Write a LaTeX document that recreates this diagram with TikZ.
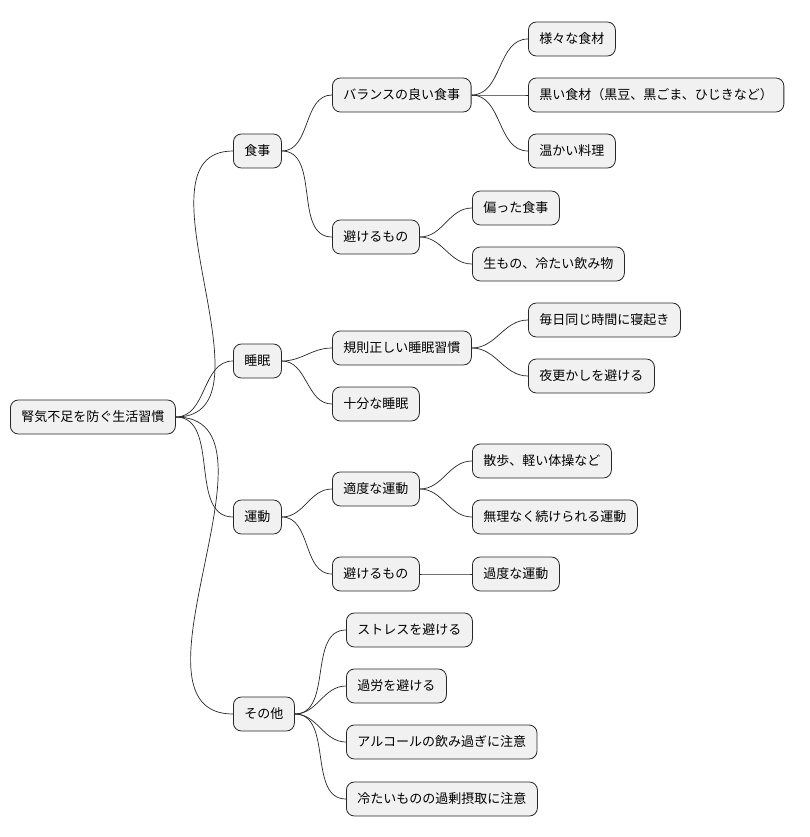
\documentclass[tikz,border=0pt]{standalone}
\usepackage{fontspec}
\setmainfont{Noto Sans CJK JP}
\begin{document}
\begin{tikzpicture}[x=1pt,y=-1pt,
  n/.style={draw=black!85,fill={rgb,255:red,241;green,241;blue,241},rounded corners=8pt,
    minimum height=34pt,inner xsep=11pt,anchor=west,font=\fontsize{13}{15}\selectfont,line width=0.8pt},
  e/.style={line width=0.7pt,black!85}]
\useasboundingbox (0,0) rectangle (810,837);
\node[n] (r) at (10,417) {腎気不足を防ぐ生活習慣};
\node[n] (a) at (233,151) {食事};
\node[n] (b) at (233,361) {睡眠};
\node[n] (c) at (233,517) {運動};
\node[n] (d) at (233,714) {その他};
\node[n] (a1) at (332,95) {バランスの良い食事};
\node[n] (a2) at (332,237) {避けるもの};
\node[n] (b1) at (332,348) {規則正しい睡眠習慣};
\node[n] (b2) at (332,404) {十分な睡眠};
\node[n] (c1) at (332,489) {適度な運動};
\node[n] (c2) at (332,574) {避けるもの};
\node[n] (a11) at (528,39) {様々な食材};
\node[n] (a12) at (528,95) {黒い食材（黒豆、黒ごま、ひじきなど）};
\node[n] (a13) at (528,151) {温かい料理};
\node[n] (a21) at (472,208) {偏った食事};
\node[n] (a22) at (472,264) {生もの、冷たい飲み物};
\node[n] (b11) at (528,320) {毎日同じ時間に寝起き};
\node[n] (b12) at (528,376) {夜更かしを避ける};
\node[n] (c11) at (472,461) {散歩、軽い体操など};
\node[n] (c12) at (472,517) {無理なく続けられる運動};
\node[n] (c21) at (472,574) {過度な運動};
\node[n] (d1) at (346,630) {ストレスを避ける};
\node[n] (d2) at (346,686) {過労を避ける};
\node[n] (d3) at (346,742) {アルコールの飲み過ぎに注意};
\node[n] (d4) at (346,799) {冷たいものの過剰摂取に注意};
\foreach \p/\c in {r/a,r/b,r/c,r/d,a/a1,a/a2,b/b1,b/b2,c/c1,c/c2,a1/a11,a1/a12,a1/a13,a2/a21,a2/a22,b1/b11,b1/b12,c1/c11,c1/c12,c2/c21,d/d1,d/d2,d/d3,d/d4}
  \draw[e] (\p.east) to[out=0,in=180] (\c.west);
\end{tikzpicture}
\end{document}
